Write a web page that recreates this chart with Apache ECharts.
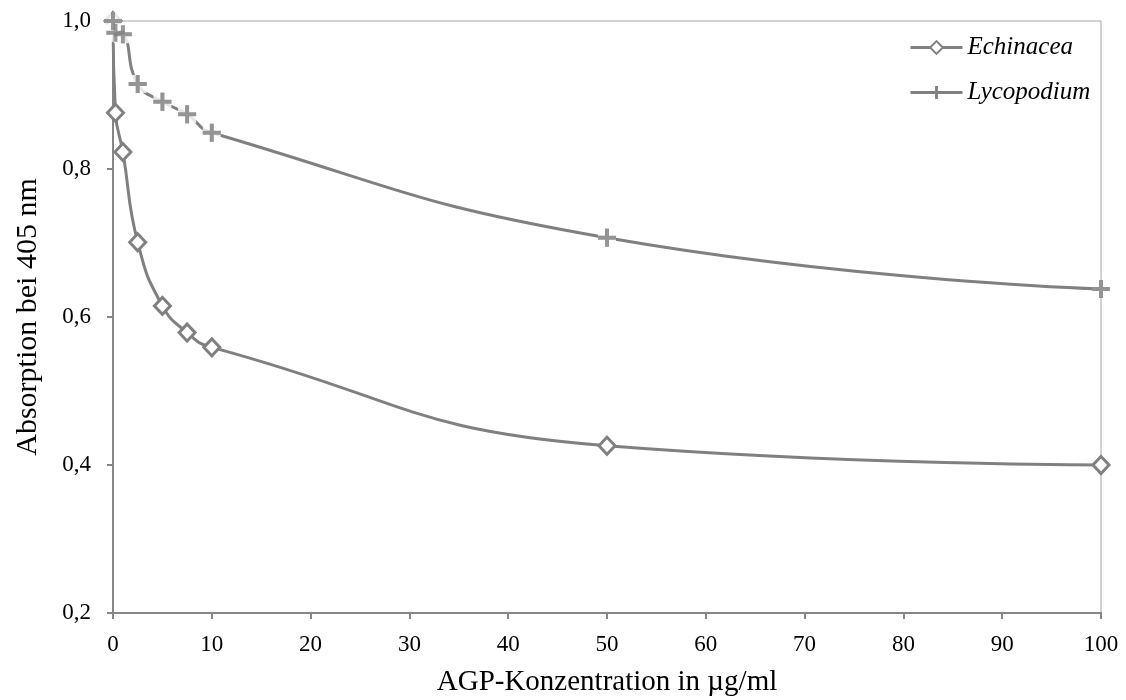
<!DOCTYPE html>
<html>
<head>
<meta charset="utf-8">
<script src="https://cdn.jsdelivr.net/npm/echarts@6/dist/echarts.min.js"></script>
<style>html,body{margin:0;padding:0;background:#fff}#c{width:1126px;height:700px}</style>
</head>
<body>
<div id="c"></div>
<script>
const concEchinacea = [0, 0.25, 1, 2.5, 5, 7.5, 10, 50, 100];
const valEchinacea = [1.0, 0.876, 0.823, 0.701, 0.615, 0.579, 0.559, 0.426, 0.400];
const concLycopodium = [0, 0.25, 1, 2.5, 5, 7.5, 10, 50, 100];
const valLycopodium = [1.0, 0.984, 0.982, 0.915, 0.891, 0.874, 0.849, 0.707, 0.638];
const seriesNames = ['Echinacea', 'Lycopodium'];
const xTitle = 'AGP-Konzentration in µg/ml';
const yTitle = 'Absorption bei 405 nm';

const pair = (xs, ys) => xs.map((x, i) => [x, ys[i]]);
const gray = '#808080';
const font = '"Liberation Serif", "Times New Roman", serif';
const plusPath = 'path://M7,0H11V7H18V11H11V18H7V11H0V7H7Z';
const lycData = pair(concLycopodium, valLycopodium);

const chart = echarts.init(document.getElementById('c'));
chart.setOption({
  animation: false,
  backgroundColor: '#fff',
  grid: { left: 113, right: 25, top: 21, bottom: 87, outerBoundsMode: 'none', containLabel: false,
          show: true, borderColor: '#a6a6a6', borderWidth: 1 },
  legend: {
    orient: 'vertical', left: 904, top: 30, itemWidth: 52, itemHeight: 16, itemGap: 20,
    textStyle: { fontFamily: font, fontStyle: 'italic', fontSize: 25, color: '#000' },
    lineStyle: { width: 3 },
    data: seriesNames
  },
  xAxis: {
    type: 'value', min: 0, max: 100, interval: 10,
    name: xTitle, nameLocation: 'middle', nameGap: 55,
    nameTextStyle: { fontFamily: font, fontSize: 29, color: '#000' },
    axisLine: { show: true, lineStyle: { color: '#868686', width: 2 } },
    axisTick: { show: true, inside: false, length: 6, lineStyle: { color: '#868686', width: 2 } },
    axisLabel: { fontFamily: font, fontSize: 23, color: '#000', margin: 20 },
    splitLine: { show: false }
  },
  yAxis: {
    type: 'value', min: 0.2, max: 1.0, interval: 0.2,
    name: yTitle, nameLocation: 'middle', nameGap: 70,
    nameTextStyle: { fontFamily: font, fontSize: 30, color: '#000' },
    axisLine: { show: true, lineStyle: { color: '#868686', width: 2 } },
    axisTick: { show: true, inside: false, length: 6, lineStyle: { color: '#868686', width: 2 } },
    axisLabel: { fontFamily: font, fontSize: 23, color: '#000', margin: 22,
      formatter: v => v.toFixed(1).replace('.', ',') },
    splitLine: { show: false }
  },
  series: [
    {
      name: seriesNames[0], type: 'line', data: pair(concEchinacea, valEchinacea),
      smooth: 0.5,
      symbol: 'diamond', symbolSize: [16, 17], showAllSymbol: true,
      lineStyle: { color: gray, width: 3 },
      itemStyle: { color: '#fff', borderColor: gray, borderWidth: 3 },
      z: 2
    },
    {
      name: seriesNames[1], type: 'line', data: lycData,
      smooth: 0.5,
      symbol: plusPath, symbolSize: 18, showAllSymbol: true,
      lineStyle: { color: gray, width: 3 },
      itemStyle: { color: gray },
      z: 3
    },
    {
      type: 'scatter', data: lycData, symbol: 'rect', symbolSize: 18,
      itemStyle: { color: '#fff' }, silent: true, z: 4
    },
    {
      type: 'scatter', data: lycData, symbol: plusPath, symbolSize: 18,
      itemStyle: { color: gray }, silent: true, z: 5
    }
  ]
});
</script>
</body>
</html>
